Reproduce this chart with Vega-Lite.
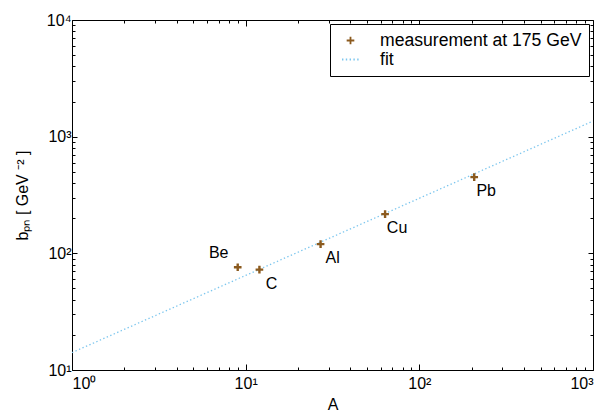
{
  "$schema": "https://vega.github.io/schema/vega-lite/v6.json",
  "width": 521,
  "height": 350,
  "autosize": {"type": "none"},
  "padding": {"left": 72, "top": 20, "right": 9, "bottom": 45},
  "background": "white",
  "config": {
    "view": {"stroke": "black", "strokeWidth": 1},
    "font": "Liberation Sans",
    "axis": {
      "grid": false,
      "labelColor": "black",
      "titleColor": "black",
      "labelFont": "Liberation Sans",
      "titleFont": "Liberation Sans",
      "labelFontSize": 16,
      "titleFontSize": 16,
      "titleFontWeight": "normal"
    }
  },
  "datasets": {
    "meas": [
      {"A": 9, "b": 76, "nucleus": "Be", "series": "measurement at 175 GeV"},
      {"A": 12, "b": 72.5, "nucleus": "C", "series": "measurement at 175 GeV"},
      {"A": 27, "b": 120, "nucleus": "Al", "series": "measurement at 175 GeV"},
      {"A": 63.5, "b": 217, "nucleus": "Cu", "series": "measurement at 175 GeV"},
      {"A": 207, "b": 450, "nucleus": "Pb", "series": "measurement at 175 GeV"}
    ],
    "fit": [
      {"A": 1, "b": 14.1, "series": "fit"},
      {"A": 1000, "b": 1360, "series": "fit"}
    ]
  },
  "resolve": {"axis": {"x": "independent", "y": "independent"}},
  "layer": [
    {
      "data": {"name": "fit"},
      "mark": {"type": "line", "strokeWidth": 1.3, "clip": true},
      "encoding": {
        "x": {
          "field": "A", "type": "quantitative",
          "scale": {"type": "log", "domain": [1, 1000], "nice": false},
          "axis": {
            "orient": "top", "title": null, "labels": false, "domain": false, "ticks": true, "tickColor": "black",
            "values": [1,2,3,4,5,6,7,8,9,10,20,30,40,50,60,70,80,90,100,200,300,400,500,600,700,800,900,1000],
            "tickSize": {"condition": {"test": "indexof([1,10,100,1000], datum.value) >= 0", "value": -6}, "value": -3}
          }
        },
        "y": {
          "field": "b", "type": "quantitative",
          "scale": {"type": "log", "domain": [10, 10000], "nice": false},
          "axis": {
            "orient": "right", "title": null, "labels": false, "domain": false, "ticks": true, "tickColor": "black",
            "values": [10,20,30,40,50,60,70,80,90,100,200,300,400,500,600,700,800,900,1000,2000,3000,4000,5000,6000,7000,8000,9000,10000],
            "tickSize": {"condition": {"test": "indexof([10,100,1000,10000], datum.value) >= 0", "value": -5}, "value": -3}
          }
        },
        "color": {
          "field": "series", "type": "nominal",
          "scale": {"domain": ["measurement at 175 GeV", "fit"], "range": ["#8B5A1E", "#7CC6EE"]},
          "legend": {
            "title": null, "orient": "top-right", "offset": 4,
            "strokeColor": "black", "fillColor": "white", "padding": 7,
            "labelFontSize": 17.6, "labelColor": "black", "labelFont": "Liberation Sans", "labelLimit": 400,
            "symbolSize": 289, "symbolStrokeWidth": 1.8, "rowPadding": 0, "labelOffset": 20, "symbolOffset": 4
          }
        },
        "strokeDash": {
          "field": "series", "type": "nominal",
          "scale": {"domain": ["measurement at 175 GeV", "fit"], "range": [[1, 0], [1.4, 2.4]]},
          "legend": null
        }
      }
    },
    {
      "data": {"name": "meas"},
      "mark": {"type": "point", "filled": false, "opacity": 1, "strokeWidth": 2.4},
      "encoding": {
        "x": {
          "field": "A", "type": "quantitative",
          "scale": {"type": "log", "domain": [1, 1000], "nice": false},
          "title": "A",
          "axis": {
            "orient": "bottom", "titlePadding": 5, "domain": false, "ticks": true, "tickColor": "black",
            "values": [1,2,3,4,5,6,7,8,9,10,20,30,40,50,60,70,80,90,100,200,300,400,500,600,700,800,900,1000],
            "labelExpr": "datum.value == 1 ? '10⁰' : datum.value == 10 ? '10¹' : datum.value == 100 ? '10²' : datum.value == 1000 ? '10³' : ''",
            "tickSize": {"condition": {"test": "indexof([1,10,100,1000], datum.value) >= 0", "value": -6}, "value": -3},
            "labelPadding": 11
          }
        },
        "y": {
          "field": "b", "type": "quantitative",
          "scale": {"type": "log", "domain": [10, 10000], "nice": false},
          "title": "bₚₙ [ GeV ⁻² ]",
          "axis": {
            "orient": "left", "titlePadding": 16, "domain": false, "ticks": true, "tickColor": "black",
            "values": [10,20,30,40,50,60,70,80,90,100,200,300,400,500,600,700,800,900,1000,2000,3000,4000,5000,6000,7000,8000,9000,10000],
            "labelExpr": "datum.value == 10 ? '10¹' : datum.value == 100 ? '10²' : datum.value == 1000 ? '10³' : datum.value == 10000 ? '10⁴' : ''",
            "tickSize": {"condition": {"test": "indexof([10,100,1000,10000], datum.value) >= 0", "value": -5}, "value": -3},
            "labelPadding": 6
          }
        },
        "color": {
          "field": "series", "type": "nominal",
          "scale": {"domain": ["measurement at 175 GeV", "fit"], "range": ["#8B5A1E", "#7CC6EE"]}
        },
        "shape": {
          "field": "series", "type": "nominal",
          "scale": {"domain": ["measurement at 175 GeV", "fit"], "range": ["M-0.45,0H0.45M0,-0.45V0.45", "stroke"]}
        },
        "size": {"value": 289}
      }
    },
    {
      "data": {"name": "meas"},
      "transform": [{"filter": "datum.nucleus == 'Be'"}],
      "mark": {"type": "text", "dx": -19, "dy": -14, "fontSize": 16, "font": "Liberation Sans", "color": "black"},
      "encoding": {
        "x": {"field": "A", "type": "quantitative", "scale": {"type": "log", "domain": [1, 1000], "nice": false}, "axis": null},
        "y": {"field": "b", "type": "quantitative", "scale": {"type": "log", "domain": [10, 10000], "nice": false}, "axis": null},
        "text": {"field": "nucleus"}
      }
    },
    {
      "data": {"name": "meas"},
      "transform": [{"filter": "datum.nucleus != 'Be'"}],
      "mark": {"type": "text", "dx": 12, "dy": 14, "fontSize": 16, "font": "Liberation Sans", "color": "black"},
      "encoding": {
        "x": {"field": "A", "type": "quantitative", "scale": {"type": "log", "domain": [1, 1000], "nice": false}, "axis": null},
        "y": {"field": "b", "type": "quantitative", "scale": {"type": "log", "domain": [10, 10000], "nice": false}, "axis": null},
        "text": {"field": "nucleus"}
      }
    }
  ]
}
